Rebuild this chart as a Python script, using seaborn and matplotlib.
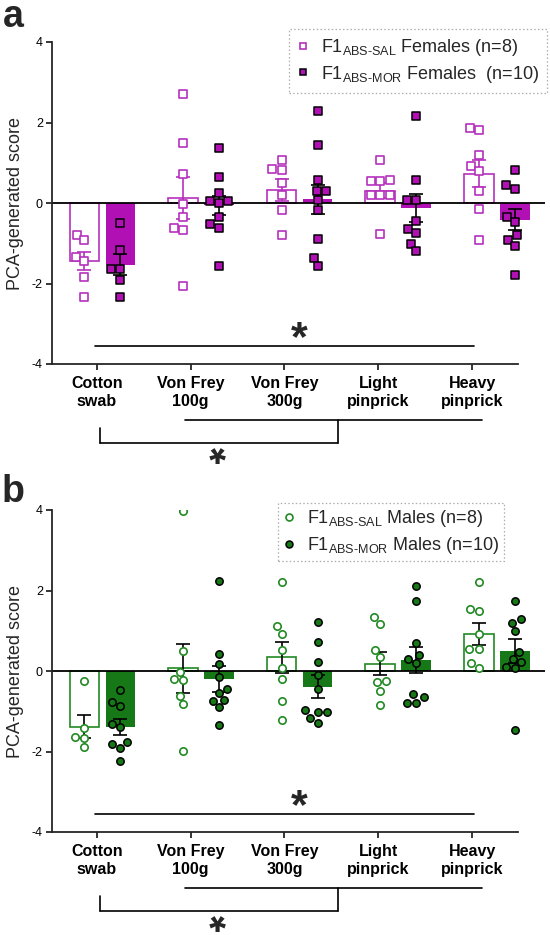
import numpy as np
import pandas as pd
import matplotlib
matplotlib.use("Agg")
import matplotlib.pyplot as plt
import seaborn as sns
from matplotlib.lines import Line2D
from matplotlib.textpath import TextPath
from matplotlib.font_manager import FontProperties
from matplotlib.transforms import offset_copy

# ---------------- data ----------------
tests = ["Cotton\nswab", "Von Frey\n100g", "Von Frey\n300g", "Light\npinprick", "Heavy\npinprick"]
groups = ["SAL", "MOR"]

# Panel a : females
fem_sal_points = [
    [-0.80, -0.93, -1.34, -1.44, -1.84, -2.34],
    [2.72, 1.49, 0.71, -0.03, -0.36, -0.62, -0.66, -2.06],
    [1.06, 0.85, 0.81, 0.50, 0.19, -0.17, -0.79],
    [1.06, 0.56, 0.54, 0.54, 0.21, 0.21, 0.21, -0.78],
    [1.86, 1.81, 1.20, 0.91, 0.79, 0.30, -0.14, -0.91],
]
fem_mor_points = [
    [-0.49, -1.18, -1.63, -1.63, -1.92, -2.34],
    [1.37, 0.65, 0.26, 0.05, 0.00, 0.05, -0.35, -0.53, -0.61, -1.57],
    [2.28, 1.45, 0.58, 0.30, 0.30, 0.08, -0.18, -0.90, -1.37, -1.57],
    [2.15, 0.56, 0.08, 0.07, -0.45, -0.64, -0.74, -1.01, -1.19],
    [0.83, 0.44, 0.36, -0.36, -0.46, -0.80, -0.91, -1.07, -1.80],
]
fem_sal_mean = [-1.44, 0.13, 0.33, 0.31, 0.73]
fem_sal_sem = [0.22, 0.52, 0.27, 0.19, 0.33]
fem_mor_mean = [-1.53, -0.06, 0.09, -0.12, -0.41]
fem_mor_sem = [0.26, 0.24, 0.36, 0.35, 0.27]

# Panel b : males
mal_sal_points = [
    [-0.26, -1.42, -1.65, -1.67, -1.90],
    [3.98, 0.50, -0.02, -0.20, -0.23, -0.61, -0.82, -1.99],
    [2.20, 1.12, 0.93, 0.52, 0.08, -0.20, -0.74, -1.22],
    [1.33, 1.17, 0.52, 0.34, -0.26, -0.28, -0.49, -0.84],
    [2.22, 1.53, 1.49, 0.91, 0.54, 0.54, 0.19, 0.07],
]
mal_mor_points = [
    [-0.47, -0.78, -0.86, -1.32, -1.38, -1.77, -1.81, -1.92, -2.23],
    [2.24, 0.41, 0.17, -0.14, -0.45, -0.55, -0.72, -0.74, -0.90, -1.34],
    [1.22, 0.73, 0.22, -0.10, -0.45, -0.97, -1.03, -1.03, -1.16, -1.28],
    [2.12, 1.75, 0.69, 0.40, 0.31, 0.19, -0.58, -0.65, -0.79, -0.79],
    [1.75, 1.28, 1.20, 0.99, 0.48, 0.31, 0.23, 0.09, 0.07, -1.46],
]
mal_sal_mean = [-1.38, 0.07, 0.34, 0.18, 0.92]
mal_sal_sem = [0.29, 0.61, 0.385, 0.28, 0.265]
mal_mor_mean = [-1.40, -0.20, -0.39, 0.27, 0.50]
mal_mor_sem = [0.20, 0.315, 0.28, 0.33, 0.29]

fem_labels = [r"F1$_{\text{ABS-SAL}}$ Females (n=8)", r"F1$_{\text{ABS-MOR}}$ Females  (n=10)"]
mal_labels = [r"F1$_{\text{ABS-SAL}}$ Males (n=8)", r"F1$_{\text{ABS-MOR}}$ Males (n=10)"]

# ---------------- style ----------------
sns.set_theme(style="ticks")
plt.rcParams["font.family"] = ["Liberation Sans", "DejaVu Sans"]
plt.rcParams["mathtext.fontset"] = "custom"
plt.rcParams["mathtext.rm"] = "Liberation Sans"
plt.rcParams["mathtext.it"] = "Liberation Sans:italic"
plt.rcParams["mathtext.bf"] = "Liberation Sans:bold"

MAG = "#B010B4"
MAG_EDGE = "#B530BC"
GRN = "#167816"
GRN_EDGE = "#228A22"

W, H = 550, 935
fig = plt.figure(figsize=(W / 100, H / 100), dpi=100)

OFFSET = 0.1826      # half distance between the two bars of a pair
BAR_W = 0.30
XLIM = (-0.512, 4.488)
SPINE_END = 4.214
TICK_POS = np.arange(len(tests)) * 0.951 - 0.056

STAR_SIZE = 31
_star_fp = FontProperties(family="Liberation Sans", weight="bold")
_star_ymin = TextPath((0, 0), "*", size=1, prop=_star_fp).get_extents().y0  # ink bottom (em)


def long_df(points, grp):
    rows = []
    for i, vals in enumerate(points):
        for v in vals:
            rows.append({"x": i + (-OFFSET if grp == "SAL" else OFFSET), "value": v, "group": grp})
    return pd.DataFrame(rows)


def star_upright(ax, x, y_ink_bottom):
    tr = offset_copy(ax.transData, fig=fig, y=-_star_ymin * STAR_SIZE, units="points")
    ax.text(x, y_ink_bottom, "*", ha="center", va="baseline", transform=tr,
            fontsize=STAR_SIZE, fontweight="bold", clip_on=False)


def star_low(ax, x, y_ink_bottom):
    # rotated so that the text box hugs the glyph near the figure's lower edge
    ax.text(x, y_ink_bottom, "*", ha="center", va="bottom", rotation=180,
            fontsize=STAR_SIZE, fontweight="bold", clip_on=False)


def panel(ax, sal_pts, mor_pts, sal_mean, sal_sem, mor_mean, mor_sem,
          col, col_edge, marker, sal_err_col, labels, leg_anchor, leg_pad):
    idx = np.arange(len(tests))
    x_sal = idx - OFFSET
    x_mor = idx + OFFSET
    # bars
    sns.barplot(x=x_sal, y=sal_mean, native_scale=True, width=BAR_W, fill=False,
                color=col_edge, saturation=1, errorbar=None, linewidth=1.2, ax=ax, zorder=1)
    sns.barplot(x=x_mor, y=mor_mean, native_scale=True, width=BAR_W, fill=True,
                color=col, saturation=1, errorbar=None, linewidth=0, ax=ax, zorder=1)
    ax.axhline(0, color="black", lw=1.3, zorder=2)
    # error bars
    ax.errorbar(x_sal, sal_mean, yerr=sal_sem, fmt="none", ecolor=sal_err_col,
                elinewidth=1.2, capsize=5, capthick=1.2, zorder=3)
    ax.errorbar(x_mor, mor_mean, yerr=mor_sem, fmt="none", ecolor="black",
                elinewidth=1.2, capsize=5, capthick=1.2, zorder=3)
    # points
    d_sal = long_df(sal_pts, "SAL")
    d_mor = long_df(mor_pts, "MOR")
    sns.swarmplot(data=d_sal, x="x", y="value", native_scale=True, color="white",
                  marker=marker, size=5.3, edgecolor=col_edge, linewidth=1.2,
                  ax=ax, zorder=4, legend=False)
    sns.swarmplot(data=d_mor, x="x", y="value", native_scale=True, color=col,
                  marker=marker, size=5.3, edgecolor="black", linewidth=1.1,
                  ax=ax, zorder=4, legend=False)

    ax.set_xlim(*XLIM)
    ax.set_ylim(-4, 4)
    ax.set_yticks([-4, -2, 0, 2, 4])
    ax.set_yticklabels(["-4", "-2", "0", "2", "4"], fontsize=9)
    ax.set_xticks(TICK_POS)
    ax.set_xticklabels(tests, fontsize=11.5, fontweight="bold", linespacing=1.3)
    ax.set_xlabel("")
    ax.set_ylabel("PCA-generated score", fontsize=13)
    ax.yaxis.set_label_coords(-0.056, 0.5)
    for s in ["top", "right"]:
        ax.spines[s].set_visible(False)
    ax.spines["left"].set_linewidth(1.3)
    ax.spines["bottom"].set_linewidth(1.3)
    ax.spines["bottom"].set_bounds(XLIM[0], SPINE_END)
    ax.tick_params(axis="both", direction="out", length=4.5, width=1.1, color="black",
                   labelcolor="black", pad=2)
    ax.tick_params(axis="x", pad=4)

    # significance annotations
    ax.plot([-0.076, 3.768], [-3.55, -3.55], color="black", lw=1.2, clip_on=False)
    star_upright(ax, 1.993, -3.31)
    kw = dict(color="black", lw=1.2, clip_on=False)
    ax.plot([0.837, 3.85], [-5.39, -5.39], **kw)
    ax.plot([2.388, 2.388], [-5.39, -5.96], **kw)
    ax.plot([-0.025, 2.388], [-5.96, -5.96], **kw)
    ax.plot([-0.025, -0.025], [-5.59, -5.96], **kw)
    star_low(ax, 1.17, -6.50)

    # legend
    handles = [
        Line2D([], [], marker=marker, linestyle="none", markerfacecolor="white",
               markeredgecolor=col_edge, markersize=5, markeredgewidth=1.2),
        Line2D([], [], marker=marker, linestyle="none", markerfacecolor=col,
               markeredgecolor="black", markersize=5, markeredgewidth=1.1),
    ]
    leg = ax.legend(handles, labels, loc="upper right", bbox_to_anchor=leg_anchor,
                    bbox_transform=fig.transFigure, fontsize=13, frameon=True,
                    fancybox=False, borderpad=leg_pad, handlelength=0.6, handletextpad=0.7,
                    labelspacing=0.3, borderaxespad=0)
    fr = leg.get_frame()
    fr.set_edgecolor("#9a9a9a")
    fr.set_linestyle((0, (1.2, 1.8)))
    fr.set_linewidth(0.9)


ax_a = fig.add_axes([52 / W, 1 - 364 / H, 493 / W, 322 / H])
ax_b = fig.add_axes([52 / W, 1 - 832 / H, 493 / W, 322 / H])

panel(ax_a, fem_sal_points, fem_mor_points, fem_sal_mean, fem_sal_sem, fem_mor_mean,
      fem_mor_sem, MAG, MAG_EDGE, "s", MAG_EDGE, fem_labels, (547 / W, 1 - 29 / H), 0.45)
panel(ax_b, mal_sal_points, mal_mor_points, mal_sal_mean, mal_sal_sem, mal_mor_mean,
      mal_mor_sem, GRN, GRN_EDGE, "o", "black", mal_labels, (504 / W, 1 - 503 / H), 0.3)

fig.text(3 / W, 1 - 27 / H, "a", fontsize=27, fontweight="bold", va="baseline", ha="left")
fig.text(2 / W, 1 - 502 / H, "b", fontsize=27, fontweight="bold", va="baseline", ha="left")

fig.savefig("out.png", dpi=100)
